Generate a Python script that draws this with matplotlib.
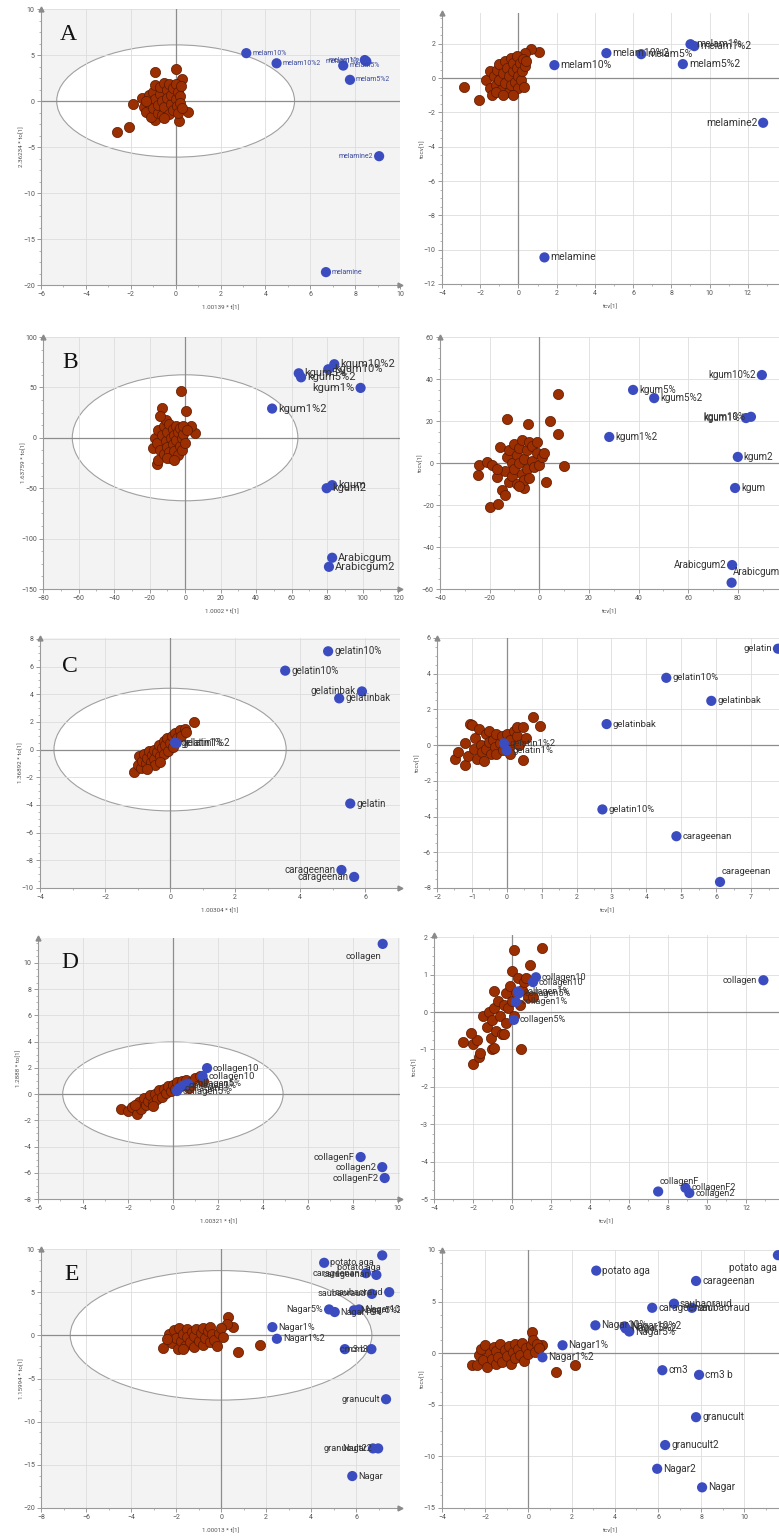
import numpy as np
import matplotlib
matplotlib.use("Agg")
import matplotlib.pyplot as plt
from matplotlib.patches import Ellipse
from matplotlib.ticker import MultipleLocator, AutoMinorLocator

# ---------------------------------------------------------------- data
# Row A : melamine
a_left_cluster = [(-2.6, -3.4), (-2.1, -2.8), (-1.9, -0.3), (-0.9, 3.2), (0.0, 3.5), (0.3, 2.4),
                  (0.55, -1.2), (0.15, -2.2), (-0.9, -2.1), (-1.5, 0.3), (-1.4, -0.6), (-1.3, -1.2),
                  (-1.2, -0.2), (-1.2, 0.6), (-1.1, -1.7), (-1.0, 1.0), (-1.0, -0.8), (-0.9, 0.2),
                  (-0.9, 1.7), (-0.8, -1.3), (-0.8, -0.4), (-0.7, 0.8), (-0.7, 1.5), (-0.6, -1.5),
                  (-0.6, 0.0), (-0.5, 2.0), (-0.5, -0.7), (-0.4, 1.2), (-0.4, 0.3), (-0.3, -1.4),
                  (-0.3, 1.9), (-0.2, -0.3), (-0.2, 0.7), (-0.1, 1.4), (-0.1, -1.0), (0.0, 0.2),
                  (0.0, 1.8), (0.05, -0.5), (0.1, 1.0), (0.1, -1.3), (0.2, 0.5), (0.2, -0.2),
                  (0.25, 1.6), (0.3, -0.8), (-1.3, 0.0), (-0.5, -1.8)]
a_left_samples = [("melam10%", 3.15, 5.2), ("melam10%2", 4.5, 4.1), ("melam5%", 7.47, 3.85),
                  ("melam1%", 8.43, 4.45), ("melam1%2", 8.5, 4.3), ("melam5%2", 7.77, 2.3),
                  ("melamine2", 9.07, -6.0), ("melamine", 6.7, -18.6)]
a_left_sides = ["r", "r", "r", "l", "l", "r", "l", "r"]

a_right_cluster = [(-2.87, -0.54), (-2.09, -1.25), (1.1, 1.5), (0.63, 1.68), (0.35, 1.45),
                   (-1.7, -0.1), (-1.5, 0.4), (-1.5, -0.6), (-1.4, -1.0), (-1.3, 0.1), (-1.2, -0.4),
                   (-1.1, 0.5), (-1.0, 0.8), (-1.0, -0.1), (-0.9, -0.7), (-0.8, 0.3), (-0.7, 1.0),
                   (-0.7, -0.3), (-0.6, 0.6), (-0.5, -0.8), (-0.5, 0.1), (-0.4, 1.2), (-0.4, -0.4),
                   (-0.3, 0.4), (-0.3, 0.9), (-0.2, -0.2), (-0.1, 0.6), (-0.1, 1.3), (0.0, -0.6),
                   (0.0, 0.1), (0.1, 0.9), (0.15, -0.1), (0.2, 0.4), (0.25, 1.1), (0.3, -0.5),
                   (0.35, 0.7), (0.4, 1.0), (-1.2, -0.8), (-0.8, -1.0), (-0.3, -1.0)]
a_right_samples = [("melam10%", 1.88, 0.76), ("melam10%2", 4.6, 1.46), ("melam5%", 6.42, 1.4),
                   ("melam5%2", 8.6, 0.82), ("melam1%", 9.0, 1.98), ("melam1%2", 9.2, 1.87),
                   ("melamine2", 12.8, -2.6), ("melamine", 1.36, -10.45)]
a_right_sides = ["r", "r", "r", "r", "r", "r", "l", "r"]

# Row B : konjac / arabic gum
b_left_cluster = [(-2.3, 46.5), (0.5, 27), (-13, 30), (-16, -26), (-15.5, -22), (5.6, 5), (3.5, 12),
                  (-18, -10), (-17, 0), (-16, -5), (-15, 8), (-14, -12), (-13, 3), (-12, -16),
                  (-12, 12), (-11, -3), (-11, 18), (-10, 6), (-10, -9), (-9, -14), (-9, 14), (-8, 0),
                  (-8, -20), (-7, 9), (-7, -6), (-6, -13), (-6, 3), (-5, 12), (-5, -2), (-4, -17),
                  (-4, 6), (-3, -8), (-3, 10), (-2, 0), (-2, -12), (-1, 4), (0, -5), (-14, 22),
                  (-10, -20), (-6, -22), (-1, 12), (1, 8)]
b_left_samples = [("kgum1%2", 49, 29), ("kgum5%", 64, 64), ("kgum5%2", 65.3, 60),
                  ("kgum10%", 80.6, 68), ("kgum10%2", 84, 73), ("kgum1%", 98.8, 49.5),
                  ("kgum", 82.8, -47), ("kgum2", 79.7, -50), ("Arabicgum", 82.8, -119),
                  ("Arabicgum2", 81, -128)]
b_left_sides = ["r", "r", "r", "r", "r", "l", "r", "r", "r", "r"]

b_right_cluster = [(7.6, 32.8), (-13, 20.9), (-4.6, 18.6), (4.4, 20), (7.6, 13.8), (10, -1.4),
                   (2.7, -9), (-19.8, -21), (-16.8, -19.6), (-24.4, -1), (-24.6, -5.9), (-21, 0.4),
                   (-15.9, 7.6), (-6.3, -12.1), (-17, -6.6), (-15, -13), (-14, -15), (-14, -4),
                   (-13, 3), (-12, -9), (-12, 6), (-11, 0), (-11, -6), (-10, 9), (-10, -3), (-9, 4),
                   (-9, -10), (-8, 0), (-8, 7), (-7, -5), (-7, 11), (-6, 2), (-6, -8), (-5, 6),
                   (-5, -3), (-4, 10), (-4, -7), (-3, 1), (-3, 8), (-2, -2), (-1, 5), (0, -1),
                   (-1, 10), (1, 3), (-19, -1), (-17, -3), (-8, -11), (2, 5)]
b_right_samples = [("kgum10%2", 89.7, 41.9), ("kgum5%", 37.8, 34.8), ("kgum5%2", 46.3, 30.9),
                   ("kgum1%", 83.3, 21.4), ("kgum10%", 85.3, 22), ("kgum1%2", 28.2, 12.4),
                   ("kgum2", 80, 2.9), ("kgum", 78.9, -11.9), ("Arabicgum2", 77.7, -48.6),
                   ("Arabicgum", 77.5, -57)]
b_right_sides = ["l", "r", "r", "l", "l", "r", "r", "r", "l", "ar"]

# Row C : gelatin / carrageenan
c_left_cluster = [(-1.1, -1.6), (-1.0, -1.1), (-0.95, -0.5), (-0.9, -1.3), (-0.85, -0.8), (-0.8, -0.3),
                  (-0.75, -1.0), (-0.7, -0.6), (-0.65, -0.1), (-0.6, -0.9), (-0.55, -0.4), (-0.5, 0.0),
                  (-0.5, -0.7), (-0.45, -1.1), (-0.4, -0.2), (-0.35, 0.3), (-0.3, -0.5), (-0.25, 0.1),
                  (-0.2, 0.6), (-0.2, -0.3), (-0.15, 0.3), (-0.1, 0.8), (-0.05, -0.1), (0.0, 0.5),
                  (0.05, 1.0), (0.1, 0.2), (0.15, 1.2), (0.2, 0.8), (0.3, 1.4), (0.35, 1.0),
                  (0.45, 1.5), (0.5, 1.3), (0.75, 2.0), (-0.7, -1.4), (-0.3, -0.9)]
c_left_samples = [("gelatin10%", 4.86, 7.1), ("gelatin10%", 3.54, 5.7), ("gelatinbak", 5.9, 4.2),
                  ("gelatinbak", 5.2, 3.7), ("gelatin", 5.54, -3.9), ("carageenan", 5.27, -8.7),
                  ("carageenan", 5.66, -9.2), ("gelatin1%", 0.15, 0.5), ("gelatin1%2", 0.2, 0.45)]
c_left_sides = ["r", "r", "l", "r", "r", "l", "l", "r", "r"]

c_right_cluster = [(0.76, 1.6), (0.95, 1.05), (-1.48, -0.8), (-1.2, -1.1), (0.45, -0.85), (-1.05, 1.2),
                   (-1.4, -0.4), (-1.2, 0.1), (-1.1, -0.6), (-1.0, 1.1), (-0.95, -0.2), (-0.9, 0.4),
                   (-0.85, -0.8), (-0.8, 0.9), (-0.75, 0.0), (-0.7, -0.4), (-0.6, 0.6), (-0.6, -0.2),
                   (-0.5, 0.8), (-0.5, 0.2), (-0.45, -0.5), (-0.4, 0.3), (-0.35, -0.1), (-0.3, 0.6),
                   (-0.3, -0.5), (-0.2, 0.1), (-0.15, 0.5), (-0.1, -0.3), (0.0, 0.6), (0.05, -0.1),
                   (0.1, 0.3), (0.2, 0.8), (0.3, 0.5), (0.3, 1.0), (0.35, 0.0), (0.45, 1.0),
                   (0.55, 0.4), (-0.65, -0.9), (0.1, -0.5)]
c_right_samples = [("gelatin", 7.77, 5.4), ("gelatin10%", 4.57, 3.77), ("gelatinbak", 5.86, 2.48),
                   ("gelatinbak", 2.86, 1.18), ("gelatin10%", 2.74, -3.6), ("carageenan", 4.86, -5.1),
                   ("carageenan", 6.11, -7.66), ("gelatin1%2", -0.08, 0.1), ("gelatin1%", 0.0, -0.3)]
c_right_sides = ["l", "r", "r", "r", "r", "r", "ar", "r", "r"]

# Row D : collagen
d_left_cluster = [(-2.3, -1.1), (-2.0, -1.3), (-1.8, -1.0), (-1.6, -1.5), (-1.5, -0.6), (-1.4, -1.1),
                  (-1.3, -0.3), (-1.2, -0.8), (-1.1, -0.5), (-1.0, -0.1), (-0.9, -0.7), (-0.8, 0.0),
                  (-0.7, -0.4), (-0.6, 0.3), (-0.5, -0.2), (-0.4, 0.4), (-0.3, 0.1), (-0.2, 0.6),
                  (-0.1, 0.2), (0.0, 0.7), (0.1, 0.4), (0.2, 0.9), (0.3, 0.6), (0.4, 1.0),
                  (0.5, 0.7), (0.6, 1.1), (0.8, 0.9), (1.0, 1.2), (1.2, 1.4), (1.35, 1.0),
                  (-1.7, -0.8), (-0.9, -0.9), (0.7, 0.5)]
d_left_samples = [("collagen", 9.33, 11.45), ("collagen10", 1.52, 1.98), ("collagen10", 1.32, 1.37),
                  ("collagen5%", 0.67, 0.8), ("collagen1%", 0.44, 0.65), ("collagen1%", 0.27, 0.45),
                  ("collagen5%", 0.18, 0.23), ("collagenF", 8.35, -4.8), ("collagen2", 9.31, -5.57),
                  ("collagenF2", 9.42, -6.4)]
d_left_sides = ["bl", "r", "r", "r", "r", "r", "r", "l", "l", "l"]

d_right_cluster = [(-2.5, -0.8), (-2.0, -1.4), (-2.0, -0.85), (-1.7, -1.2), (-1.65, -1.1), (-1.8, -0.75),
                   (-2.1, -0.55), (0.1, 1.65), (1.55, 1.7), (0.0, 1.1), (0.95, 1.25), (-0.9, 0.55),
                   (0.45, -1.0), (-1.05, -1.0), (-0.9, -0.95), (-1.5, -0.1), (-1.3, -0.4), (-1.2, 0.0),
                   (-1.1, -0.7), (-1.0, -0.2), (-0.9, 0.1), (-0.8, -0.5), (-0.7, 0.3), (-0.6, -0.1),
                   (-0.5, -0.6), (-0.4, 0.2), (-0.3, 0.5), (-0.3, -0.3), (-0.2, 0.1), (-0.1, 0.7),
                   (0.0, 0.3), (0.1, -0.1), (0.2, 0.5), (0.3, 0.9), (0.4, 0.2), (0.5, 0.6),
                   (0.6, 0.8), (0.7, 0.9), (0.8, 0.4), (-0.4, -0.6), (1.1, 0.4)]
d_right_samples = [("collagen", 12.9, 0.85), ("collagen10", 1.23, 0.93), ("collagen10", 1.08, 0.8),
                   ("collagen1%", 0.3, 0.55), ("collagen5%", 0.35, 0.5), ("collagen1%", 0.2, 0.27),
                   ("collagen5%", 0.1, -0.21), ("collagenF", 7.5, -4.8), ("collagenF2", 8.9, -4.7),
                   ("collagen2", 9.1, -4.84)]
d_right_sides = ["l", "r", "r", "r", "r", "r", "r", "ar", "r", "r"]

# Row E : agar media
e_left_cluster = [(1.75, -1.1), (0.75, -1.9), (0.3, 2.1), (-2.6, -1.5), (0.55, 1.0), (0.25, 1.3),
                  (-2.3, 0.2), (-2.2, -0.9), (-2.1, 0.6), (-2.0, -0.3), (-1.9, -1.6), (-1.85, 0.9),
                  (-1.8, -0.6), (-1.7, 0.2), (-1.6, -1.2), (-1.5, 0.7), (-1.5, -0.2), (-1.4, -0.8),
                  (-1.3, 0.4), (-1.2, -1.3), (-1.2, -0.1), (-1.1, 0.7), (-1.0, -0.6), (-0.9, 0.3),
                  (-0.8, -1.1), (-0.8, 0.9), (-0.7, -0.3), (-0.6, 0.5), (-0.5, -0.8), (-0.5, 1.0),
                  (-0.4, 0.1), (-0.3, -0.5), (-0.2, -1.2), (-0.1, 0.3), (0.0, 0.8), (0.1, -0.2),
                  (-2.4, -0.4), (-1.7, -1.6)]
e_left_samples = [("potato aga", 7.16, 9.26), ("potato aga", 4.58, 8.4), ("carageenan", 6.44, 7.2),
                  ("carageenan", 6.9, 7.0), ("saubaoraud", 6.7, 4.8), ("saubaoraud", 7.47, 5.0),
                  ("Nagar5%", 4.8, 3.0), ("Nagar10%", 5.05, 2.7), ("Nagar10%2", 6.13, 3.0),
                  ("Nagar5%2", 5.9, 2.9), ("Nagar1%", 2.28, 0.95), ("Nagar1%2", 2.48, -0.4),
                  ("cm3", 5.5, -1.6), ("cm3 b", 6.68, -1.6), ("granucult", 7.33, -7.4),
                  ("granucult2", 6.75, -13.1), ("Nagar2", 6.98, -13.1), ("Nagar", 5.83, -16.3)]
e_left_sides = ["bl", "r", "l", "l", "l", "l", "l", "r", "r", "r", "r", "r", "r", "l", "l", "l", "l", "r"]

e_right_cluster = [(2.15, -1.1), (1.3, -1.8), (0.15, 2.1), (0.65, 0.8), (-2.6, -1.1), (-2.4, -1.1),
                   (-2.3, -0.2), (-2.2, 0.4), (-2.1, -0.7), (-2.0, 0.8), (-1.9, -1.3), (-1.8, 0.0),
                   (-1.7, -0.6), (-1.6, 0.6), (-1.5, -1.0), (-1.5, 0.2), (-1.4, -0.4), (-1.3, 0.9),
                   (-1.2, -0.9), (-1.1, 0.3), (-1.0, -0.3), (-0.9, 0.7), (-0.8, -1.0), (-0.7, 0.1),
                   (-0.6, -0.5), (-0.6, 0.9), (-0.5, 0.4), (-0.4, -0.2), (-0.3, 1.0), (-0.2, -0.8),
                   (-0.1, 0.5), (0.0, -0.1), (0.1, 0.8), (0.2, 1.3), (0.3, 0.1), (0.4, 0.9), (0.5, 0.5)]
e_right_samples = [("potato aga", 11.55, 9.5), ("potato aga", 3.14, 8.0), ("carageenan", 7.76, 7.0),
                   ("carageenan", 5.73, 4.4), ("saubaoraud", 6.74, 4.8), ("saubaoraud", 7.57, 4.4),
                   ("Nagar10%", 3.1, 2.7), ("Nagar10%2", 4.45, 2.6), ("Nagar5%", 4.67, 2.1),
                   ("Nagar5%2", 4.5, 2.4), ("Nagar1%", 1.58, 0.77), ("Nagar1%2", 0.65, -0.4),
                   ("cm3", 6.2, -1.65), ("cm3 b", 7.9, -2.1), ("granucult", 7.76, -6.2),
                   ("granucult2", 6.33, -8.9), ("Nagar2", 5.96, -11.2), ("Nagar", 8.04, -13.0)]
e_right_sides = ["bl"] + ["r"] * 17

panel_letters = ["A", "B", "C", "D", "E"]
left_xlabels = ["1.00139 * t[1]", "1.0002 * t[1]", "1.00304 * t[1]", "1.00321 * t[1]", "1.00013 * t[1]"]
left_ylabels = ["2.36234 * to[1]", "1.63759 * to[1]", "1.36892 * to[1]", "1.2888 * to[1]", "1.15994 * to[1]"]
right_xlabel = "tcv[1]"
right_ylabel = "tocv[1]"

# ---------------------------------------------------------------- figure
W, H = 779, 1538
fig = plt.figure(figsize=(W / 100, H / 100), dpi=100)
plt.rcParams["font.family"] = ["Roboto", "DejaVu Sans"]

BROWN, BROWN_EDGE = "#9c2f02", "#5a1800"
BLUE = "#3a4cbf"
AXIS_GREY = "#8c8c8c"
MARK = 54


def add_ax(l, r, t, b):
    return fig.add_axes([l / W, 1 - b / H, (r - l) / W, (b - t) / H])


def label_point(ax, name, x, y, side, fs, color):
    off = {"r": ((4.3, 0), "left", "center"),
           "l": ((-4.3, 0), "right", "center"),
           "bl": ((-1, -5.5), "right", "top"),
           "ar": ((1, 4), "left", "bottom")}[side]
    ax.annotate(name, (x, y), xytext=off[0], textcoords="offset points",
                ha=off[1], va=off[2], fontsize=fs, color=color, zorder=6,
                annotation_clip=True, clip_on=True)


def style_axes(ax, box, xlim, ylim, xstep, ystep, shaded, xlabel, ylabel, arrow_x):
    l, r, t, b = box
    ax.set_xlim(*xlim)
    ax.set_ylim(*ylim)
    ax.set_facecolor("#f3f3f3" if shaded else "white")
    ax.xaxis.set_major_locator(MultipleLocator(xstep))
    ax.yaxis.set_major_locator(MultipleLocator(ystep))
    ax.xaxis.set_minor_locator(AutoMinorLocator(2))
    ax.yaxis.set_minor_locator(AutoMinorLocator(4))
    ax.grid(True, which="major", color="#dddddd", lw=0.6)
    ax.set_axisbelow(True)
    ax.axhline(0, color=AXIS_GREY, lw=0.9, zorder=1)
    ax.axvline(0, color=AXIS_GREY, lw=0.9, zorder=1)
    for s in ("top", "right"):
        ax.spines[s].set_visible(False)
    for s in ("left", "bottom"):
        ax.spines[s].set_color("#9a9a9a")
        ax.spines[s].set_linewidth(0.8)
    ax.tick_params(which="major", direction="out", length=3, width=0.6, color="#8a8a8a",
                   labelsize=5, labelcolor="#555555", pad=1.5)
    ax.tick_params(which="minor", direction="out", length=1.6, width=0.5, color="#9a9a9a")
    ax.plot(0, 1, marker="^", ms=3.5, color="#8a8a8a", transform=ax.transAxes, clip_on=False, zorder=7)
    if arrow_x:
        ax.plot(1, 0, marker=">", ms=3.5, color="#8a8a8a", transform=ax.transAxes, clip_on=False, zorder=7)
    ax.set_xlabel(xlabel, fontsize=4.5, color="#555555")
    ax.set_ylabel(ylabel, fontsize=4.5, color="#555555")
    ax.xaxis.set_label_coords(0.5, -20 / (b - t))
    ax.yaxis.set_label_coords(-17 / (r - l), 0.5)


def draw(ax, cluster, samples, sides, fs, lcolor, ellipse=None):
    if ellipse is not None:
        ax.add_patch(Ellipse((0, 0), 2 * ellipse[0], 2 * ellipse[1], fc="white",
                             ec="#a0a0a0", lw=0.8, zorder=0.2))
    cx, cy = np.array(cluster, dtype=float).T
    ax.scatter(cx, cy, s=MARK, c=BROWN, edgecolors=BROWN_EDGE, linewidths=0.5, zorder=3)
    names = [s[0] for s in samples]
    bx = [s[1] for s in samples]
    by = [s[2] for s in samples]
    ax.scatter(bx, by, s=MARK, c=BLUE, edgecolors="none", zorder=4)
    for n, x, y, sd in zip(names, bx, by, sides):
        label_point(ax, n, x, y, sd, fs, lcolor)


# Hotelling ellipse half-axes for the left-hand score plots
ellipses = [(5.3, 6.1), (63.5, 62.5), (3.57, 4.43), (4.9, 3.97), (6.7, 7.5)]

rows = [
    dict(lbox=(41, 400, 9, 285), lx=(-6, 10), ly=(-20, 10), lstep=(2, 5),
         rbox=(442, 779, 13, 284), rx=(-4, 13.63), ry=(-12, 3.8), rstep=(2, 2),
         left=(a_left_cluster, a_left_samples, a_left_sides, 5.0, "#3a4a9c"),
         right=(a_right_cluster, a_right_samples, a_right_sides, 7.5, "#333333"),
         letter_xy=(68, 35)),
    dict(lbox=(43, 400, 337, 589), lx=(-80, 121), ly=(-150, 100), lstep=(20, 50),
         rbox=(440, 779, 337, 589), rx=(-40, 96.6), ry=(-60, 60), rstep=(20, 20),
         left=(b_left_cluster, b_left_samples, b_left_sides, 8.0, "#333333"),
         right=(b_right_cluster, b_right_samples, b_right_sides, 7.0, "#333333"),
         letter_xy=(70, 363)),
    dict(lbox=(40, 400, 638, 888), lx=(-4, 7.07), ly=(-10, 8.06), lstep=(2, 2),
         rbox=(437, 779, 638, 888), rx=(-2, 7.8), ry=(-8, 6), rstep=(1, 2),
         left=(c_left_cluster, c_left_samples, c_left_sides, 7.0, "#333333"),
         right=(c_right_cluster, c_right_samples, c_right_sides, 6.8, "#333333"),
         letter_xy=(70, 667)),
    dict(lbox=(38, 400, 938, 1199), lx=(-6, 10.1), ly=(-8, 11.9), lstep=(2, 2),
         rbox=(434, 779, 935, 1199), rx=(-4, 13.7), ry=(-5, 2.06), rstep=(2, 1),
         left=(d_left_cluster, d_left_samples, d_left_sides, 6.8, "#333333"),
         right=(d_right_cluster, d_right_samples, d_right_sides, 6.6, "#333333"),
         letter_xy=(70, 963)),
    dict(lbox=(41, 400, 1249, 1508), lx=(-8, 7.95), ly=(-20, 10), lstep=(2, 5),
         rbox=(442, 779, 1250, 1508), rx=(-4, 11.6), ry=(-15, 10), rstep=(2, 5),
         left=(e_left_cluster, e_left_samples, e_left_sides, 6.6, "#333333"),
         right=(e_right_cluster, e_right_samples, e_right_sides, 7.2, "#333333"),
         letter_xy=(72, 1275)),
]

for i, row in enumerate(rows):
    axl = add_ax(*row["lbox"])
    style_axes(axl, row["lbox"], row["lx"], row["ly"], *row["lstep"], True,
               left_xlabels[i], left_ylabels[i], True)
    draw(axl, *row["left"], ellipse=ellipses[i])

    axr = add_ax(*row["rbox"])
    style_axes(axr, row["rbox"], row["rx"], row["ry"], *row["rstep"], False,
               right_xlabel, right_ylabel, False)
    draw(axr, *row["right"])

    lx, ly = row["letter_xy"]
    fig.text(lx / W, 1 - ly / H, panel_letters[i], family="Liberation Serif",
             fontsize=17, ha="center", va="center", color="#111111", zorder=10)

fig.savefig("out.png", dpi=100)
